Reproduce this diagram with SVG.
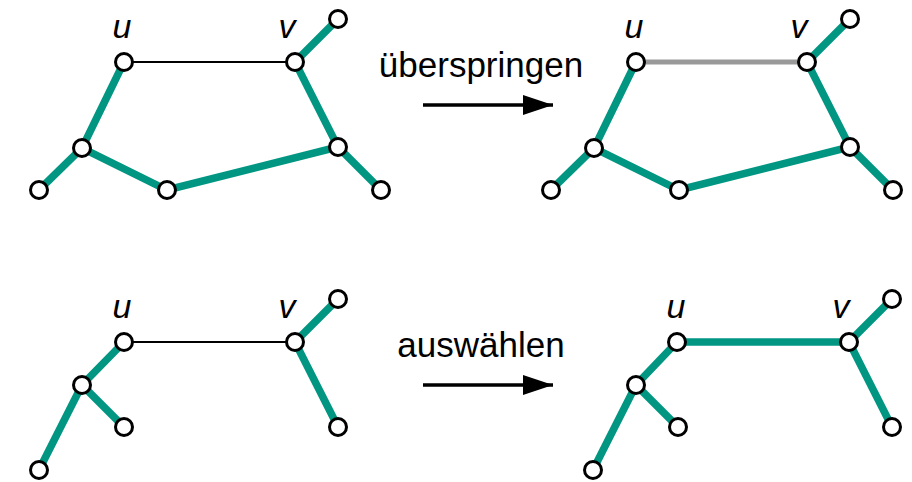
<svg xmlns="http://www.w3.org/2000/svg" width="912" height="482" viewBox="0 0 912 482">
  <defs>
    <style>
      .tree { stroke: #009682; stroke-width: 7.5; stroke-linecap: butt; fill: none; }
      .thin { stroke: #000; stroke-width: 2; fill: none; }
      .skip { stroke: #999; stroke-width: 5; fill: none; }
      .arrow { stroke: #000; stroke-width: 3.5; fill: none; }
      .node use { fill: #fff; stroke: #000; stroke-width: 3; }
      .lbl { font-family: "Liberation Sans", Arial, sans-serif; font-style: italic; font-size: 34px; text-anchor: middle; fill: #000; }
      .op { font-family: "Liberation Sans", Arial, sans-serif; font-size: 35px; text-anchor: middle; fill: #000; }
    </style>
    <marker id="head" viewBox="0 0 30 20" refX="30" refY="10" markerWidth="30" markerHeight="20" markerUnits="userSpaceOnUse" orient="auto">
      <path d="M0,0 L30,10 L0,20 Z" fill="#000"/>
    </marker>
    <circle id="dot" r="8.5"/>
  </defs>

  <!-- edges -->
  <g id="connectors">
    <!-- panel 1 -->
    <line class="thin" x1="124" y1="62" x2="295" y2="62"/>
    <polyline class="tree" points="124,62 82,148 167,190 338,147 295,62 338,19"/>
    <line class="tree" x1="82" y1="148" x2="39" y2="190"/>
    <line class="tree" x1="338" y1="147" x2="381" y2="190"/>
    <!-- panel 2 -->
    <line class="skip" x1="636" y1="62" x2="807" y2="62"/>
    <polyline class="tree" points="636,62 594,148 679,190 850,147 807,62 850,19"/>
    <line class="tree" x1="594" y1="148" x2="551" y2="190"/>
    <line class="tree" x1="850" y1="147" x2="893" y2="190"/>
    <!-- panel 3 -->
    <line class="thin" x1="124" y1="342" x2="295" y2="342"/>
    <polyline class="tree" points="124,342 82,385 39,470"/>
    <line class="tree" x1="82" y1="385" x2="124" y2="427"/>
    <polyline class="tree" points="338,299 295,342 338,427"/>
    <!-- panel 4 -->
    <polyline class="tree" points="849,342 677,342 636,385 593,470"/>
    <line class="tree" x1="636" y1="385" x2="678" y2="427"/>
    <polyline class="tree" points="892,299 849,342 892,427"/>
    <!-- operation arrows -->
    <line class="arrow" x1="423" y1="105" x2="553" y2="105" marker-end="url(#head)"/>
    <line class="arrow" x1="423" y1="385" x2="553" y2="385" marker-end="url(#head)"/>
  </g>

  <!-- panel 1 nodes -->
  <g id="p1-u" class="node"><use href="#dot" x="124" y="62"/><text class="lbl" x="122" y="38">u</text></g>
  <g id="p1-v" class="node"><use href="#dot" x="295" y="62"/><text class="lbl" x="287" y="38">v</text></g>
  <g id="p1-a" class="node"><use href="#dot" x="338" y="19"/></g>
  <g id="p1-b" class="node"><use href="#dot" x="82" y="148"/></g>
  <g id="p1-c" class="node"><use href="#dot" x="39" y="190"/></g>
  <g id="p1-d" class="node"><use href="#dot" x="167" y="190"/></g>
  <g id="p1-e" class="node"><use href="#dot" x="338" y="147"/></g>
  <g id="p1-f" class="node"><use href="#dot" x="381" y="190"/></g>

  <!-- panel 2 nodes -->
  <g id="p2-u" class="node"><use href="#dot" x="636" y="62"/><text class="lbl" x="634" y="38">u</text></g>
  <g id="p2-v" class="node"><use href="#dot" x="807" y="62"/><text class="lbl" x="799" y="38">v</text></g>
  <g id="p2-a" class="node"><use href="#dot" x="850" y="19"/></g>
  <g id="p2-b" class="node"><use href="#dot" x="594" y="148"/></g>
  <g id="p2-c" class="node"><use href="#dot" x="551" y="190"/></g>
  <g id="p2-d" class="node"><use href="#dot" x="679" y="190"/></g>
  <g id="p2-e" class="node"><use href="#dot" x="850" y="147"/></g>
  <g id="p2-f" class="node"><use href="#dot" x="893" y="190"/></g>

  <!-- panel 3 nodes -->
  <g id="p3-u" class="node"><use href="#dot" x="124" y="342"/><text class="lbl" x="122" y="318">u</text></g>
  <g id="p3-v" class="node"><use href="#dot" x="295" y="342"/><text class="lbl" x="287" y="318">v</text></g>
  <g id="p3-a" class="node"><use href="#dot" x="338" y="299"/></g>
  <g id="p3-b" class="node"><use href="#dot" x="82" y="385"/></g>
  <g id="p3-c" class="node"><use href="#dot" x="124" y="427"/></g>
  <g id="p3-d" class="node"><use href="#dot" x="39" y="470"/></g>
  <g id="p3-e" class="node"><use href="#dot" x="338" y="427"/></g>

  <!-- panel 4 nodes -->
  <g id="p4-u" class="node"><use href="#dot" x="677" y="342"/><text class="lbl" x="676" y="318">u</text></g>
  <g id="p4-v" class="node"><use href="#dot" x="849" y="342"/><text class="lbl" x="841" y="318">v</text></g>
  <g id="p4-a" class="node"><use href="#dot" x="892" y="299"/></g>
  <g id="p4-b" class="node"><use href="#dot" x="636" y="385"/></g>
  <g id="p4-c" class="node"><use href="#dot" x="678" y="427"/></g>
  <g id="p4-d" class="node"><use href="#dot" x="593" y="470"/></g>
  <g id="p4-e" class="node"><use href="#dot" x="892" y="427"/></g>

  <!-- operation labels -->
  <g id="op-skip"><text class="op" x="481" y="77">überspringen</text></g>
  <g id="op-select"><text class="op" x="481" y="357">auswählen</text></g>
</svg>
